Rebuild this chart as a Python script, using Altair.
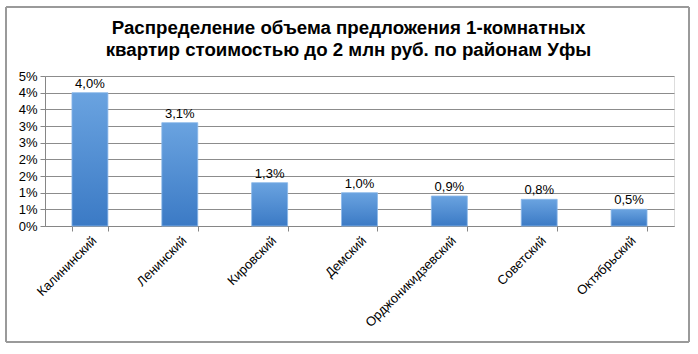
import altair as alt
import pandas as pd

districts = ["Калининский", "Ленинский", "Кировский", "Демский",
             "Орджоникидзевский", "Советский", "Октябрьский"]
shares = [4.0, 3.1, 1.3, 1.0, 0.9, 0.8, 0.5]
y_ticks = [0, 0.5, 1, 1.5, 2, 2.5, 3, 3.5, 4, 4.5]
title_lines = ["Распределение объема предложения 1-комнатных",
               "квартир стоимостью до 2 млн руб. по районам Уфы"]

df = pd.DataFrame({"district": districts, "share": shares})

FONT = "Liberation Sans"

x_enc = alt.X("district:N", sort=districts, title=None,
              scale=alt.Scale(paddingInner=0.6, paddingOuter=0.3),
              axis=alt.Axis(labelAngle=-45, labelFontSize=13, labelFont=FONT,
                            labelColor="#000000", domainColor="#868686",
                            tickColor="#868686", tickSize=5, tickBand="extent",
                            labelPadding=3, grid=False, labelOverlap=False))
y_enc = alt.Y("share:Q", title=None,
              scale=alt.Scale(domain=[0, 4.5], nice=False),
              axis=alt.Axis(values=y_ticks, labelOverlap=False,
                            labelExpr="round(datum.value) + '%'",
                            labelFontSize=13, labelFont=FONT, labelColor="#000000",
                            domainColor="#868686", tickColor="#868686", tickSize=5,
                            gridColor="#8c8c8c", grid=True, labelPadding=3))

bars = alt.Chart(df).mark_bar(
    color=alt.Gradient(gradient="linear", x1=0, y1=0, x2=0, y2=1,
                       stops=[alt.GradientStop(color="#6aa3e0", offset=0),
                              alt.GradientStop(color="#3b7ac5", offset=1)]),
    stroke="#8ab8ea", strokeWidth=0.8
).encode(x=x_enc, y=y_enc)

labels = alt.Chart(df).transform_calculate(
    lbl="replace(format(datum.share, '.1f'), '.', ',') + '%'"
).mark_text(dy=-9, fontSize=13, font=FONT, color="#000000").encode(
    x=x_enc, y=y_enc, text="lbl:N")

frame = alt.Chart(df).mark_rect(fill=None, stroke="#9a9a9a", strokeWidth=1.5,
                                cornerRadius=2).encode(
    x=alt.value(-39), x2=alt.value(644), y=alt.value(-69), y2=alt.value(266))

chart = alt.layer(frame, bars, labels).properties(
    width=629, height=150,
    autosize=alt.AutoSizeParams(type="none"),
    padding={"left": 45, "top": 76, "right": 24, "bottom": 128},
    title=alt.TitleParams(title_lines, fontSize=18.7, font=FONT, fontWeight="bold",
                          color="#000000", anchor="middle", dx=-11,
                          lineHeight=22, offset=-53),
).configure_view(stroke=None).configure(background="#ffffff")

chart.save("out.html", embed_options={"renderer": "svg", "actions": False})
